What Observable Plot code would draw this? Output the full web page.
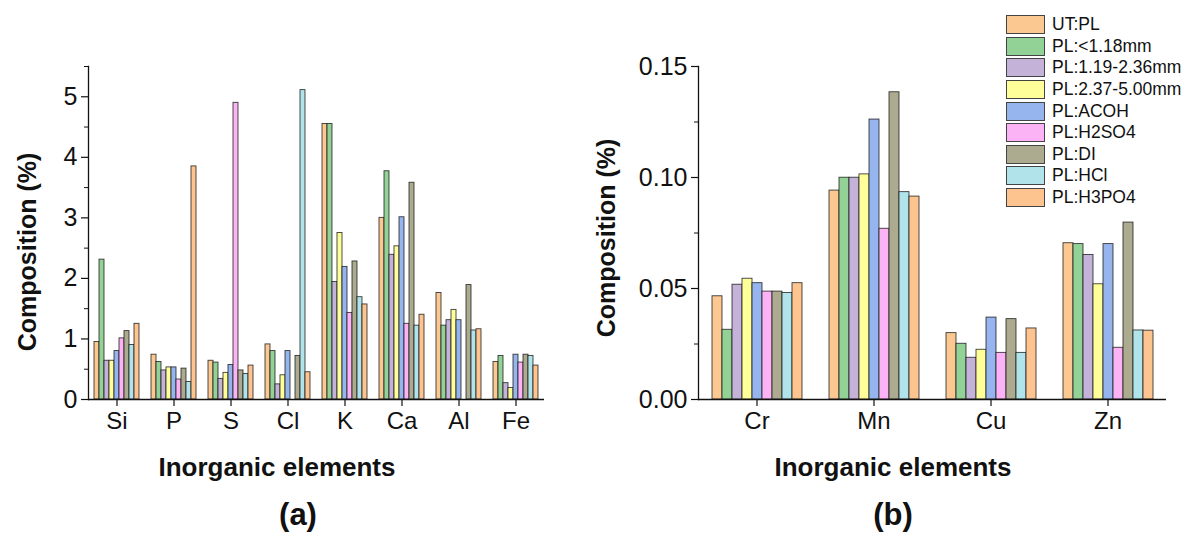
<!DOCTYPE html>
<html>
<head>
<meta charset="utf-8">
<script src="https://cdn.jsdelivr.net/npm/d3@7"></script>
<script src="https://cdn.jsdelivr.net/npm/@observablehq/plot@0.6"></script>
<style>
  html, body { margin: 0; padding: 0; background: #fff; }
  #root { position: relative; width: 1190px; height: 536px; overflow: hidden; font-family: "Liberation Sans", Arial, sans-serif; color: #111; }
  .abs { position: absolute; }
  .title { font-weight: bold; font-size: 25px; white-space: nowrap; }
  .ytitle { transform: translate(-50%, -50%) rotate(-90deg); }
  .xtitle { transform: translate(-50%, -50%); font-size: 26px; }
  .panel { font-weight: bold; font-size: 31px; transform: translate(-50%, -50%); }
  #legend { left: 1006px; top: 14px; font-size: 17.5px; }
  .lrow { display: flex; align-items: center; height: 21.6px; }
  .sw { width: 39px; height: 19px; box-sizing: border-box; border: 1px solid #444; margin-right: 7px; }
</style>
</head>
<body>
<div id="root"></div>
<script>
// ---- data ----
const series = ["UT:PL", "PL:<1.18mm", "PL:1.19-2.36mm", "PL:2.37-5.00mm", "PL:ACOH", "PL:H2SO4", "PL:DI", "PL:HCl", "PL:H3PO4"];
const colors = ["#FBC892", "#93D296", "#C4B2D9", "#FFFF99", "#96B5EE", "#FCB3F5", "#ADAB8F", "#B0E4EA", "#FDC490"];

const elementsA = ["Si", "P", "S", "Cl", "K", "Ca", "Al", "Fe"];
const valSi = [0.95, 2.31, 0.64, 0.64, 0.80, 1.01, 1.13, 0.90, 1.25];
const valP  = [0.74, 0.62, 0.48, 0.53, 0.53, 0.33, 0.51, 0.29, 3.85];
const valS  = [0.64, 0.61, 0.34, 0.44, 0.57, 4.90, 0.48, 0.42, 0.56];
const valCl = [0.91, 0.80, 0.25, 0.40, 0.80, 0.00, 0.72, 5.11, 0.45];
const valK  = [4.55, 4.55, 1.94, 2.75, 2.19, 1.43, 2.28, 1.69, 1.57];
const valCa = [3.00, 3.77, 2.39, 2.53, 3.01, 1.25, 3.58, 1.22, 1.40];
const valAl = [1.76, 1.22, 1.31, 1.48, 1.31, 0.00, 1.89, 1.14, 1.16];
const valFe = [0.62, 0.72, 0.27, 0.19, 0.74, 0.61, 0.74, 0.72, 0.56];

const elementsB = ["Cr", "Mn", "Cu", "Zn"];
const valCr = [0.0465, 0.0314, 0.0517, 0.0544, 0.0524, 0.0486, 0.0486, 0.0480, 0.0524];
const valMn = [0.0941, 0.0999, 0.0999, 0.1014, 0.1261, 0.0769, 0.1384, 0.0934, 0.0914];
const valCu = [0.0299, 0.0251, 0.0188, 0.0224, 0.0369, 0.0210, 0.0362, 0.0210, 0.0320];
const valZn = [0.0704, 0.0700, 0.0651, 0.0519, 0.0700, 0.0233, 0.0797, 0.0311, 0.0310];

const ticksA = [0, 1, 2, 3, 4, 5];
const minorA = [0.5, 1.5, 2.5, 3.5, 4.5, 5.5];
const ticksB = [0, 0.05, 0.10, 0.15];
const minorB = [0.025, 0.075, 0.125];

// ---- build tables ----
function table(elements, rows) {
  const out = [];
  elements.forEach((el, i) => rows[i].forEach((v, j) => out.push({element: el, series: series[j], value: v})));
  return out;
}
const dataA = table(elementsA, [valSi, valP, valS, valCl, valK, valCa, valAl, valFe]);
const dataB = table(elementsB, [valCr, valMn, valCu, valZn]);

function chart(data, elements, yDomain, ticks, minor, fmt, opts) {
  return Plot.plot({
    width: 595, height: 440,
    marginLeft: opts.marginLeft, marginRight: opts.marginRight, marginTop: 66, marginBottom: 41,
    style: {fontFamily: "Liberation Sans, Arial, sans-serif", fontSize: "22px", color: "#111", background: "transparent", overflow: "visible"},
    fx: {domain: elements, padding: 0, label: null},
    x: {domain: series, paddingInner: 0, paddingOuter: opts.po, axis: null},
    y: {domain: yDomain, label: null},
    color: {domain: series, range: colors},
    marks: [
      Plot.barY(data, {fx: "element", x: "series", y: "value", fill: "series", stroke: "#1a1a1a", strokeWidth: 0.9, strokeOpacity: 0.85}),
      Plot.ruleY([0], {stroke: "#111", strokeWidth: 1.3}),
      Plot.frame({anchor: "left", facetAnchor: "left", stroke: "#111", strokeWidth: 1.3}),
      Plot.axisY({ticks: ticks, tickSize: 7, tickPadding: 4, tickFormat: fmt, label: null, fontSize: 25, strokeWidth: 1.2}),
      Plot.axisY({ticks: minor, tickSize: 4, tickFormat: () => "", label: null, strokeWidth: 1}),
      Plot.axisFx({anchor: "bottom", tickSize: 7, tickPadding: 5, label: null, fontSize: 24, strokeWidth: 1.2})
    ]
  });
}

const root = document.getElementById("root");

const left = chart(dataA, elementsA, [0, 5.5], ticksA, minorA, d => String(d), {marginLeft: 86, marginRight: 50, po: 0.9});
left.classList.add("abs"); left.style.left = "0px"; left.style.top = "0px";
root.appendChild(left);

const right = chart(dataB, elementsB, [0, 0.15], ticksB, minorB, d3.format(".2f"), {marginLeft: 102, marginRight: 23, po: 1.12});
right.classList.add("abs"); right.style.left = "595px"; right.style.top = "0px";
root.appendChild(right);

function addText(cls, text, x, y) {
  const d = document.createElement("div");
  d.className = "abs " + cls;
  d.textContent = text;
  d.style.left = x + "px";
  d.style.top = y + "px";
  root.appendChild(d);
}
addText("title ytitle", "Composition (%)", 27, 252);
addText("title ytitle", "Composition (%)", 606, 238);
addText("title xtitle", "Inorganic elements", 277, 467);
addText("title xtitle", "Inorganic elements", 893, 467);
addText("panel", "(a)", 298, 515);
addText("panel", "(b)", 893, 515);

// legend
const lg = document.createElement("div");
lg.id = "legend"; lg.className = "abs";
series.forEach((s, i) => {
  const r = document.createElement("div"); r.className = "lrow";
  const sw = document.createElement("div"); sw.className = "sw"; sw.style.background = colors[i];
  const t = document.createElement("span"); t.textContent = s;
  r.appendChild(sw); r.appendChild(t); lg.appendChild(r);
});
root.appendChild(lg);
</script>
</body>
</html>
